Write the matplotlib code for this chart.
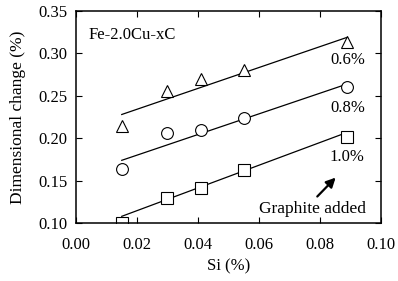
import matplotlib
matplotlib.use("Agg")
from matplotlib import pyplot as plt

plt.rcParams['font.family'] = ['Liberation Serif', 'DejaVu Serif']

si = [0.015, 0.030, 0.041, 0.055, 0.089]
c06 = [0.214, 0.256, 0.270, 0.281, 0.313]
c08 = [0.164, 0.206, 0.210, 0.224, 0.260]
c10 = [0.100, 0.130, 0.141, 0.163, 0.201]

# fitted lines (end points)
fit_x = [0.015, 0.089]
fit06 = [0.228, 0.319]
fit08 = [0.174, 0.264]
fit10 = [0.108, 0.207]

fig = plt.figure(figsize=(3.98, 2.81), dpi=100)
ax = fig.add_axes([0.191, 0.206, 0.766, 0.755])

for ys, fit, m, lab, ly in [(c06, fit06, '^', '0.6%', 0.292),
                            (c08, fit08, 'o', '0.8%', 0.236),
                            (c10, fit10, 's', '1.0%', 0.178)]:
    ax.plot(fit_x, fit, color='black', lw=0.9)
    ax.plot(si, ys, m, ms=8.5, mfc='white', mec='black', mew=0.8, ls='none')
    ax.text(0.089, ly, lab, ha='center', va='center', fontsize=12)

ax.text(0.004, 0.322, 'Fe-2.0Cu-xC', fontsize=12, va='center')
ax.text(0.0775, 0.117, 'Graphite added', ha='center', va='center', fontsize=12.5)
ax.annotate('', xy=(0.0858, 0.156), xytext=(0.0785, 0.129),
            arrowprops=dict(arrowstyle='-|>', color='black', lw=1.6, mutation_scale=14))

ax.set_xlim(0, 0.10)
ax.set_ylim(0.10, 0.35)
ax.set_xticks([0, 0.02, 0.04, 0.06, 0.08, 0.10])
ax.set_xticklabels(['0.00', '0.02', '0.04', '0.06', '0.08', '0.10'])
ax.set_yticks([0.10, 0.15, 0.20, 0.25, 0.30, 0.35])
ax.set_yticklabels(['0.10', '0.15', '0.20', '0.25', '0.30', '0.35'])
ax.tick_params(direction='in', top=True, right=True, labelsize=12, length=4, pad=6)
ax.tick_params(axis='x', pad=10)
for s in ax.spines.values():
    s.set_linewidth(1.1)
ax.set_xlabel('Si (%)', fontsize=12, labelpad=4)
ax.set_ylabel('Dimensional change (%)', fontsize=12.5, labelpad=9)

fig.savefig('out.png', dpi=100)
